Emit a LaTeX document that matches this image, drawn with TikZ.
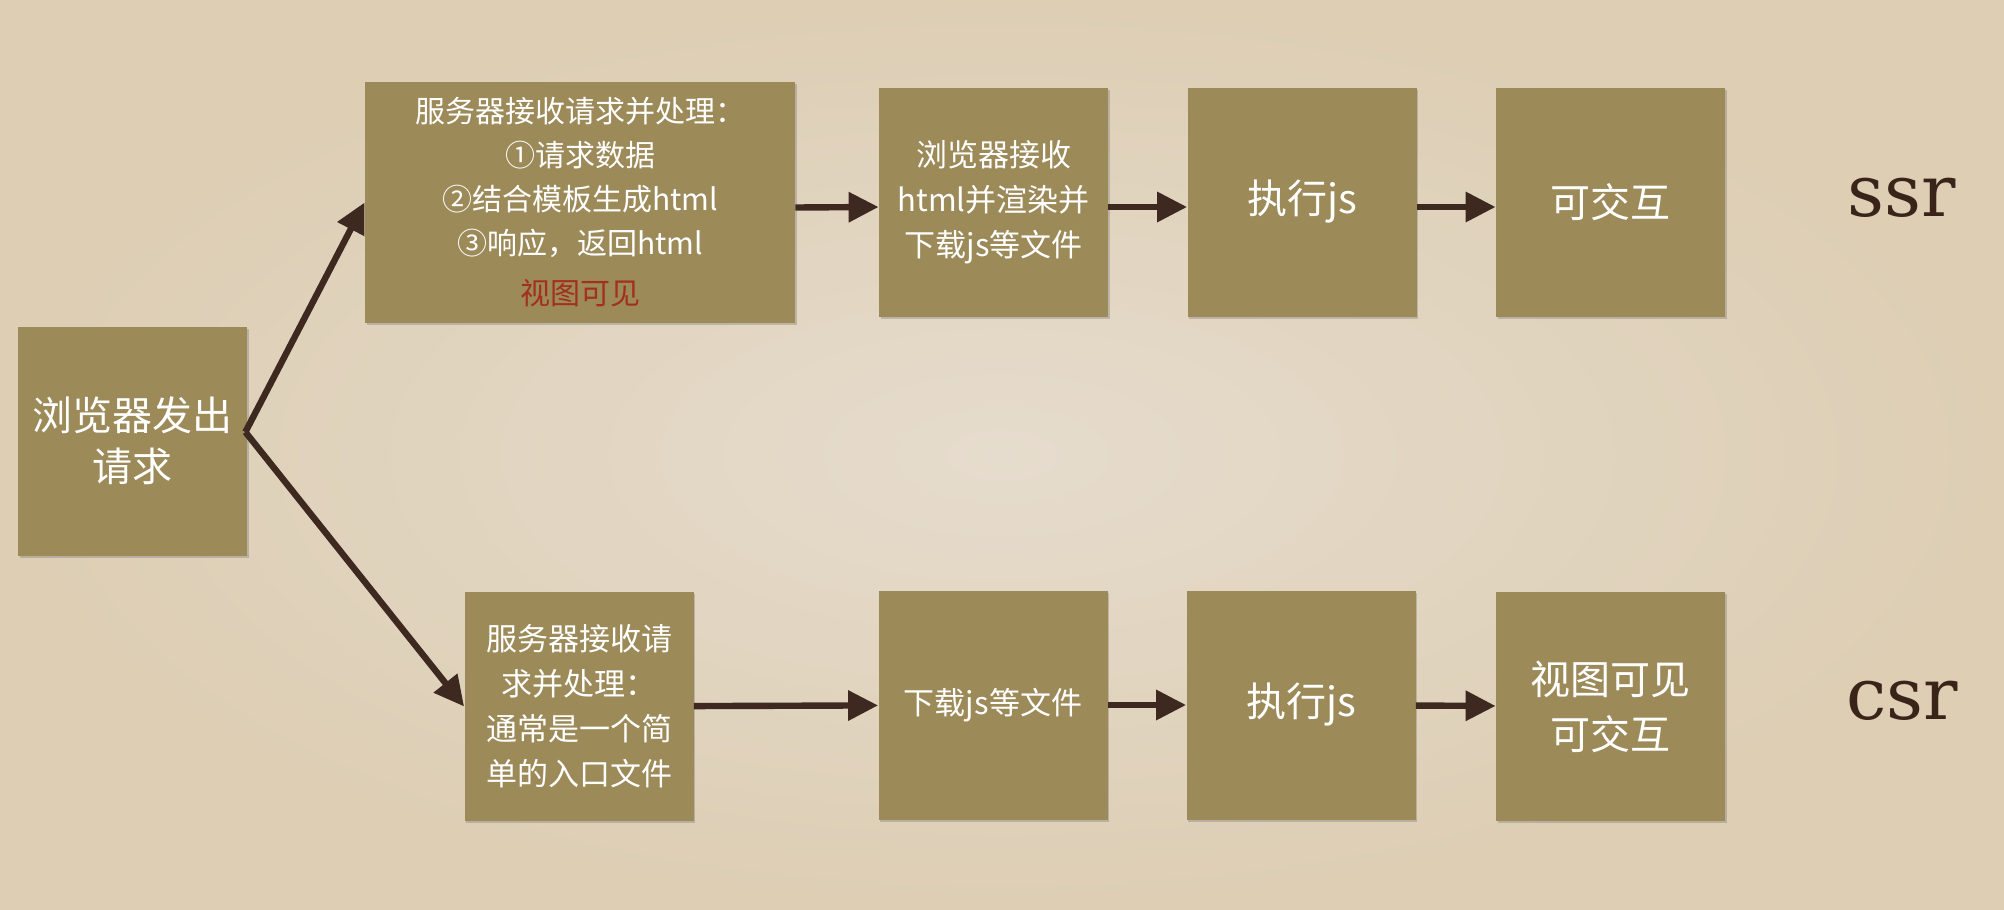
\documentclass[tikz,border=0pt]{standalone}
\usepackage{fontspec}
\newfontfamily\cjk{Noto Sans CJK SC}
\newfontfamily\labelfont{DejaVu Serif}
\usetikzlibrary{arrows.meta,shadows,calc}
\definecolor{paper}{HTML}{DDCEB4}
\definecolor{paperlight}{HTML}{E6DCCD}
\definecolor{boxfill}{HTML}{9C8A59}
\definecolor{arrowc}{HTML}{3D2920}
\definecolor{redtext}{HTML}{A3301F}
\definecolor{labelc}{HTML}{3A2419}
\begin{document}
\begin{tikzpicture}[x=0.5pt,y=-0.5pt,
  box/.style={rectangle, fill=boxfill, draw=none, text=white, align=center,
    inner sep=0pt, minimum width=114.5pt, minimum height=114.5pt, font=\cjk,
    drop shadow={shadow xshift=0.8pt, shadow yshift=-1.2pt, opacity=0.3, fill=black!60}},
  bigtxt/.style={font=\cjk\fontsize{20}{25.5}\selectfont},
  smalltxt/.style={font=\cjk\fontsize{15.5}{22.5}\selectfont},
  arr/.style={draw=arrowc, line width=3.2pt, -{Triangle[length=15pt,width=14.5pt]}},
  side/.style={text=labelc, font=\labelfont\fontsize{36}{36}\selectfont, inner sep=0pt}
]
\useasboundingbox (0,0) rectangle (2004,910);
\fill[paper] (0,0) rectangle (2004,910);
\shade[inner color=paperlight, outer color=paper] (0,0) rectangle (2004,910);

% nodes
\node[box, bigtxt] (A) at (132.5,441) {浏览器发出\\请求};
\node[box, minimum width=215pt, minimum height=120.5pt,
      font=\cjk\fontsize{15}{22}\selectfont] (B) at (580,202.5)
  {服务器接收请求并处理：\\①请求数据\\②结合模板生成html\\③响应，返回html\\[3pt]\textcolor{redtext}{视图可见}};
\node[box, smalltxt] (C) at (993.5,202) {浏览器接收\\html并渲染并\\下载js等文件};
\node[box, bigtxt] (D) at (1302,202) {执行js};
\node[box, bigtxt] (E) at (1610.5,202) {可交互};

\node[box, smalltxt] (F) at (579,706.5) {服务器接收请\\求并处理：\\通常是一个简\\单的入口文件};
\node[box, smalltxt] (G) at (993,705) {下载js等文件};
\node[box, bigtxt] (H) at (1301,705) {执行js};
\node[box, font=\cjk\fontsize{20}{27.5}\selectfont] (I) at (1610.5,706.5) {视图可见\\可交互};

\node[side] (ssr) at (1902,198) {ssr};
\node[side] (csr) at (1902,701) {csr};

% connectors
\coordinate (split) at ($(A.east)+(-2,-9)$);
\draw[arr] (split) -- (B.west);
\draw[arr] (split) -- (F.west);
\draw[arr] ([yshift=-2.5pt]B.east) -- ([yshift=-2.5pt]C.west);
\draw[arr] ([yshift=-2.5pt]C.east) -- ([yshift=-2.5pt]D.west);
\draw[arr] ([yshift=-2.5pt]D.east) -- ([yshift=-2.5pt]E.west);
\draw[arr] (F) -- (G);
\draw[arr] (G) -- (H);
\draw[arr] (H) -- (I);
\end{tikzpicture}
\end{document}
